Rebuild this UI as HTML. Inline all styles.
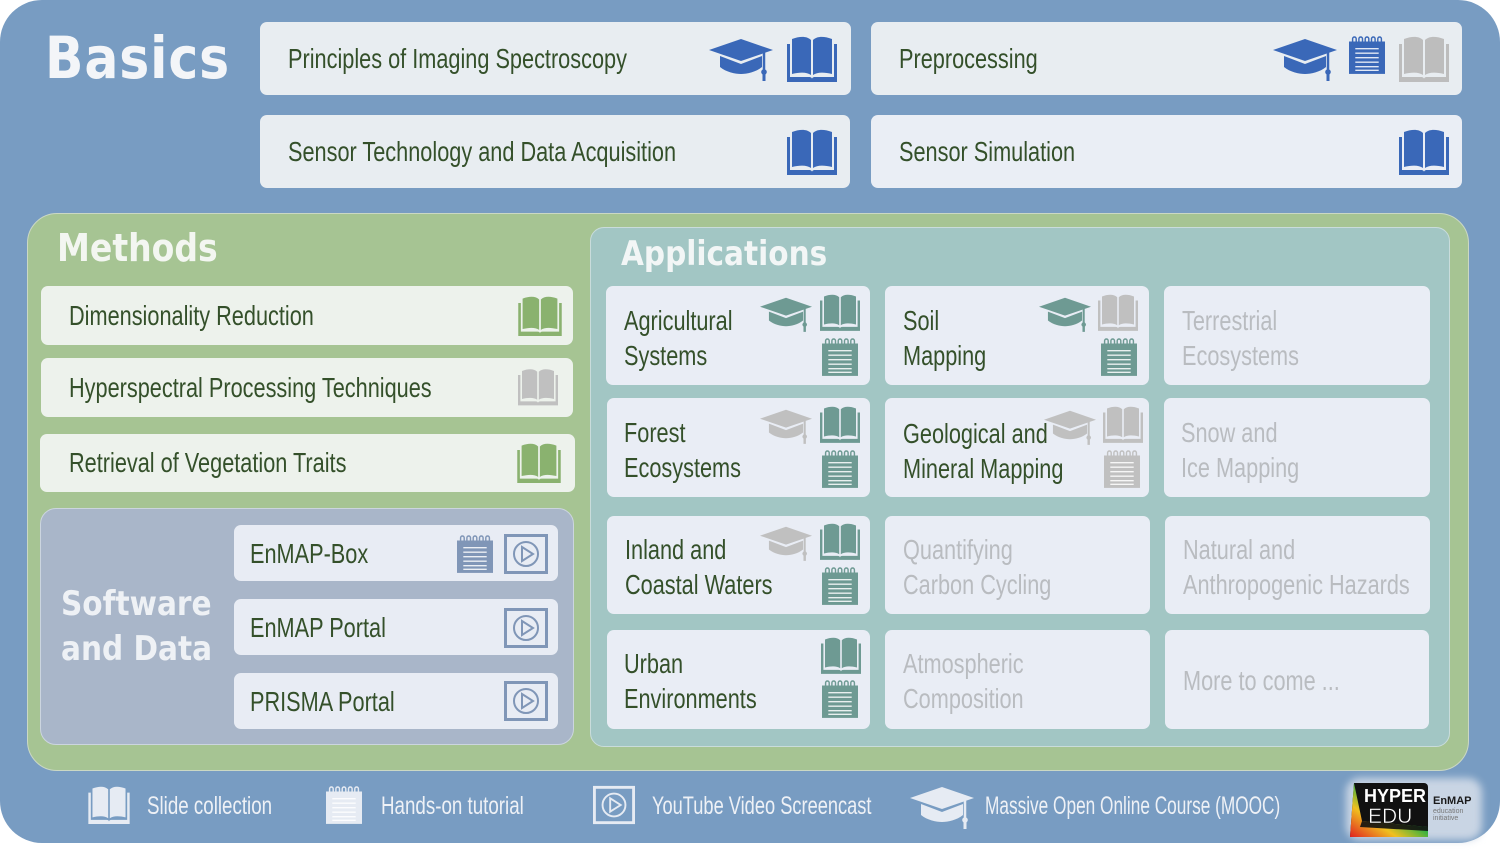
<!DOCTYPE html>
<html><head><meta charset="utf-8"><style>
*{margin:0;padding:0;box-sizing:border-box}
body{width:1500px;height:854px;background:#fff;position:relative;overflow:hidden;font-family:"Liberation Sans",sans-serif;}
.a{position:absolute}
.outer{left:0;top:0;width:1500px;height:843px;background:#789cc2;border-radius:42px}
.card{position:absolute;border-radius:7px;}
.t{position:absolute;color:#34502a;font-size:28px;white-space:nowrap;line-height:35px;transform:scaleX(.775);transform-origin:0 0}
.g{color:#b9bcc0}
.h{position:absolute;font-family:"DejaVu Sans","Liberation Sans",sans-serif;font-weight:bold;white-space:nowrap;transform:scaleX(.87);transform-origin:0 0}
.lg{position:absolute;color:#eef1f6;font-size:25px;white-space:nowrap;top:791px;line-height:30px;transform:scaleX(.75);transform-origin:0 0}
svg.i{position:absolute;overflow:visible}
</style></head><body>
<svg width="0" height="0" style="position:absolute">
<defs>
<symbol id="book" viewBox="0 0 50 46">
<path d="M0 8h3v33h19c2 0 3 1 3 2c0-1 1-2 3-2h19V8h3v38H0z"/>
<path d="M5 3c8-3 15-3 19 1v35c-4-3-11-3-19-1z M26 4c4-4 11-4 19-1v35c-8-2-15-2-19 1z"/>
</symbol>
<symbol id="cap" viewBox="0 0 64 46">
<path d="M0 14L32 3L64 14L32 25z"/>
<path d="M11 20v11c6 5 15 7 21 7s15-2 21-7V20L32 28z"/>
<path d="M55 16v20" stroke="currentColor" stroke-width="2.5" fill="none"/>
<circle cx="55" cy="36" r="2.8"/><path d="M53.5 37h3v8h-3z"/>
</symbol>
<symbol id="note" viewBox="0 0 40 42">
<rect x="0" y="6" width="40" height="36"/>
<path d="M4 8V3a2 2 0 0 1 4 0v5M11 8V3a2 2 0 0 1 4 0v5M18 8V3a2 2 0 0 1 4 0v5M25 8V3a2 2 0 0 1 4 0v5M32 8V3a2 2 0 0 1 4 0v5" stroke="currentColor" stroke-width="1.6" fill="none"/>
<path d="M7 14h26M7 19h26M7 24h26M7 29h26M7 34h26M7 38h26" stroke="#fff" stroke-opacity=".85" stroke-width="1.6"/>
</symbol>
<symbol id="play" viewBox="0 0 44 40">
<rect x="1.5" y="1.5" width="41" height="37" fill="none" stroke="currentColor" stroke-width="3"/>
<circle cx="22" cy="20" r="12" fill="none" stroke="currentColor" stroke-width="2"/>
<path d="M18 13L29 20L18 27z" fill="none" stroke="currentColor" stroke-width="2"/>
</symbol>
</defs></svg>

<div class="a outer"></div>
<div class="h" style="left:45px;top:24px;font-size:58px;color:#f3f5f8;letter-spacing:1px">Basics</div>

<div class="card" style="left:260px;top:22px;width:591px;height:73px;background:#e8edf1"></div>
<div class="card" style="left:871px;top:22px;width:591px;height:73px;background:#e8edf1"></div>
<div class="card" style="left:260px;top:115px;width:590px;height:73px;background:#e8edf1"></div>
<div class="card" style="left:871px;top:115px;width:591px;height:73px;background:#eaeef5"></div>
<div class="t" style="left:288px;top:41px">Principles of Imaging Spectroscopy</div>
<div class="t" style="left:899px;top:41px">Preprocessing</div>
<div class="t" style="left:288px;top:134px">Sensor Technology and Data Acquisition</div>
<div class="t" style="left:899px;top:134px">Sensor Simulation</div>
<svg class="i" style="left:709px;top:36px;color:#3a68b8;fill:#3a68b8" width="64" height="46"><use href="#cap"/></svg>
<svg class="i" style="left:787px;top:36px;fill:#3a68b8" width="50" height="46"><use href="#book"/></svg>
<svg class="i" style="left:1273px;top:36px;color:#3a68b8;fill:#3a68b8" width="64" height="46"><use href="#cap"/></svg>
<svg class="i" style="left:1349px;top:36px;color:#3a68b8;fill:#3a68b8" width="36" height="38"><use href="#note"/></svg>
<svg class="i" style="left:1399px;top:36px;fill:#bdbdbd" width="50" height="46"><use href="#book"/></svg>
<svg class="i" style="left:787px;top:129px;fill:#3a68b8" width="50" height="46"><use href="#book"/></svg>
<svg class="i" style="left:1399px;top:129px;fill:#3a68b8" width="50" height="46"><use href="#book"/></svg>

<!-- Methods -->
<div class="a" style="left:27px;top:213px;width:1442px;height:558px;background:#a6c493;border:1.5px solid #cbd8c4;border-radius:30px"></div>
<div class="h" style="left:57px;top:226px;font-size:38px;color:#f3f6f1">Methods</div>
<div class="card" style="left:41px;top:286px;width:532px;height:59px;background:#edf2ec"></div>
<div class="card" style="left:41px;top:358px;width:532px;height:59px;background:#edf2ec"></div>
<div class="card" style="left:40px;top:434px;width:535px;height:58px;background:#edf2ec"></div>
<div class="t" style="left:69px;top:298px">Dimensionality Reduction</div>
<div class="t" style="left:69px;top:370px">Hyperspectral Processing Techniques</div>
<div class="t" style="left:69px;top:445px">Retrieval of Vegetation Traits</div>
<svg class="i" style="left:518px;top:296px;fill:#8ab26f" width="44" height="40"><use href="#book"/></svg>
<svg class="i" style="left:518px;top:368px;fill:#c0c0c0" width="40" height="38"><use href="#book"/></svg>
<svg class="i" style="left:517px;top:443px;fill:#8ab26f" width="44" height="40"><use href="#book"/></svg>

<!-- Software -->
<div class="a" style="left:40px;top:508px;width:534px;height:237px;background:#a9b6c9;border:1.5px solid #ccd5df;border-radius:16px"></div>
<div class="h" style="left:61px;top:582px;font-size:34px;color:#eef1f5;line-height:45px">Software<br>and Data</div>
<div class="card" style="left:234px;top:525px;width:324px;height:56px;background:#e8ecf4"></div>
<div class="card" style="left:234px;top:599px;width:324px;height:56px;background:#e8ecf4"></div>
<div class="card" style="left:234px;top:673px;width:324px;height:56px;background:#e8ecf4"></div>
<div class="t" style="left:250px;top:536px">EnMAP-Box</div>
<div class="t" style="left:250px;top:610px">EnMAP Portal</div>
<div class="t" style="left:250px;top:684px">PRISMA Portal</div>
<svg class="i" style="left:457px;top:535px;color:#8096b7;fill:#8096b7" width="36" height="38"><use href="#note"/></svg>
<svg class="i" style="left:504px;top:534px;color:#8096b7" width="44" height="40"><use href="#play"/></svg>
<svg class="i" style="left:504px;top:608px;color:#8096b7" width="44" height="40"><use href="#play"/></svg>
<svg class="i" style="left:504px;top:681px;color:#8096b7" width="44" height="40"><use href="#play"/></svg>

<!-- Applications -->
<div class="a" style="left:590px;top:227px;width:860px;height:520px;background:#a2c6c4;border:1.5px solid #c9dcdb;border-radius:14px"></div>
<div class="h" style="left:621px;top:234px;font-size:34px;color:#f2f6f6">Applications</div>

<div class="card" style="left:606px;top:286px;width:264px;height:99px;background:#e9edf5"></div>
<div class="card" style="left:885px;top:286px;width:264px;height:99px;background:#e9edf5"></div>
<div class="card" style="left:1164px;top:286px;width:266px;height:99px;background:#e9edf5"></div>
<div class="card" style="left:607px;top:398px;width:263px;height:99px;background:#e9edf5"></div>
<div class="card" style="left:885px;top:398px;width:264px;height:99px;background:#e9edf5"></div>
<div class="card" style="left:1164px;top:398px;width:266px;height:99px;background:#e9edf5"></div>
<div class="card" style="left:607px;top:516px;width:263px;height:98px;background:#e9edf5"></div>
<div class="card" style="left:885px;top:516px;width:265px;height:98px;background:#e9edf5"></div>
<div class="card" style="left:1165px;top:516px;width:265px;height:98px;background:#e9edf5"></div>
<div class="card" style="left:607px;top:630px;width:263px;height:99px;background:#e9edf5"></div>
<div class="card" style="left:885px;top:630px;width:265px;height:99px;background:#e9edf5"></div>
<div class="card" style="left:1165px;top:630px;width:264px;height:99px;background:#e9edf5"></div>

<div class="t" style="left:624px;top:303px">Agricultural<br>Systems</div>
<div class="t" style="left:903px;top:303px">Soil<br>Mapping</div>
<div class="t g" style="left:1182px;top:303px">Terrestrial<br>Ecosystems</div>
<div class="t" style="left:624px;top:415px">Forest<br>Ecosystems</div>
<div class="t" style="left:903px;top:416px">Geological and<br>Mineral Mapping</div>
<div class="t g" style="left:1181px;top:415px">Snow and<br>Ice Mapping</div>
<div class="t" style="left:625px;top:532px">Inland and<br>Coastal Waters</div>
<div class="t g" style="left:903px;top:532px">Quantifying<br>Carbon Cycling</div>
<div class="t g" style="left:1183px;top:532px">Natural and<br>Anthropogenic Hazards</div>
<div class="t" style="left:624px;top:646px">Urban<br>Environments</div>
<div class="t g" style="left:903px;top:646px">Atmospheric<br>Composition</div>
<div class="t g" style="left:1183px;top:663px">More to come ...</div>

<!-- app icons -->
<svg class="i" style="left:760px;top:295px;color:#6e9a93;fill:#6e9a93" width="52" height="38"><use href="#cap"/></svg>
<svg class="i" style="left:820px;top:294px;fill:#6e9a93" width="40" height="37"><use href="#book"/></svg>
<svg class="i" style="left:822px;top:338px;color:#6e9a93;fill:#6e9a93" width="36" height="38"><use href="#note"/></svg>
<svg class="i" style="left:1039px;top:295px;color:#6e9a93;fill:#6e9a93" width="52" height="38"><use href="#cap"/></svg>
<svg class="i" style="left:1098px;top:294px;fill:#c0c0c0" width="40" height="37"><use href="#book"/></svg>
<svg class="i" style="left:1101px;top:338px;color:#6e9a93;fill:#6e9a93" width="36" height="38"><use href="#note"/></svg>

<svg class="i" style="left:760px;top:407px;color:#c0c0c0;fill:#c0c0c0" width="52" height="38"><use href="#cap"/></svg>
<svg class="i" style="left:820px;top:406px;fill:#6e9a93" width="40" height="37"><use href="#book"/></svg>
<svg class="i" style="left:822px;top:450px;color:#6e9a93;fill:#6e9a93" width="36" height="38"><use href="#note"/></svg>
<svg class="i" style="left:1044px;top:408px;color:#c0c0c0;fill:#c0c0c0" width="52" height="38"><use href="#cap"/></svg>
<svg class="i" style="left:1103px;top:406px;fill:#c0c0c0" width="40" height="37"><use href="#book"/></svg>
<svg class="i" style="left:1104px;top:450px;color:#c0c0c0;fill:#c0c0c0" width="36" height="38"><use href="#note"/></svg>

<svg class="i" style="left:760px;top:524px;color:#c0c0c0;fill:#c0c0c0" width="52" height="38"><use href="#cap"/></svg>
<svg class="i" style="left:820px;top:523px;fill:#6e9a93" width="40" height="37"><use href="#book"/></svg>
<svg class="i" style="left:822px;top:567px;color:#6e9a93;fill:#6e9a93" width="36" height="38"><use href="#note"/></svg>

<svg class="i" style="left:821px;top:637px;fill:#6e9a93" width="40" height="37"><use href="#book"/></svg>
<svg class="i" style="left:822px;top:680px;color:#6e9a93;fill:#6e9a93" width="36" height="38"><use href="#note"/></svg>

<!-- legend -->
<svg class="i" style="left:88px;top:786px;fill:#e6ebf3" width="42" height="38"><use href="#book"/></svg>
<div class="lg" style="left:147px">Slide collection</div>
<svg class="i" style="left:326px;top:786px;color:#e6ebf3;fill:#e6ebf3" width="36" height="38"><use href="#note"/></svg>
<div class="lg" style="left:381px">Hands-on tutorial</div>
<svg class="i" style="left:593px;top:785px;color:#e6ebf3" width="42" height="40"><use href="#play"/></svg>
<div class="lg" style="left:652px;transform:scaleX(.73)">YouTube Video Screencast</div>
<svg class="i" style="left:910px;top:784px;color:#e6ebf3;fill:#e6ebf3" width="64" height="46"><use href="#cap"/></svg>
<div class="lg" style="left:985px;transform:scaleX(.69)">Massive Open Online Course (MOOC)</div>

<!-- logo -->
<div class="a" style="left:1346px;top:778px;width:136px;height:62px;background:#c9d5e4;border-radius:14px;filter:blur(4px)"></div>
<svg class="i" style="left:1350px;top:781px" width="80" height="58">
<defs><linearGradient id="rb" x1="0" y1="1" x2="1" y2="0"><stop offset="0" stop-color="#e02020"/><stop offset=".3" stop-color="#f0c020"/><stop offset=".55" stop-color="#30b040"/><stop offset=".8" stop-color="#2060d0"/><stop offset="1" stop-color="#8030a0"/></linearGradient></defs>
<path d="M4 2h70a4 4 0 0 1 4 4v50H0z" fill="#111"/>
<path d="M4 2L12 40L78 46V56H0z" fill="url(#rb)"/>
<path d="M12 40L78 46V50L10 46z" fill="#111" opacity=".9"/>
<text x="14" y="21" font-family="Liberation Sans" font-weight="bold" font-size="18" fill="#fff">HYPER</text>
<text x="18" y="42" font-family="Liberation Sans" font-size="21" fill="#fff" stroke="#111" stroke-width=".5">EDU</text>
</svg>
<div class="a" style="left:1433px;top:795px;font-family:'Liberation Sans',sans-serif;font-weight:bold;font-size:11px;color:#1a1a1a">EnMAP</div>
<div class="a" style="left:1433px;top:808px;font-family:'Liberation Sans',sans-serif;font-size:7px;line-height:7px;color:#777">education<br>initiative</div>
</body></html>
